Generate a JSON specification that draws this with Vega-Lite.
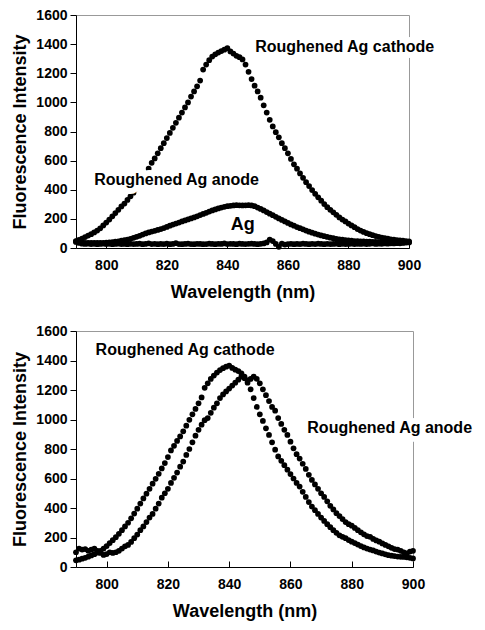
{
  "$schema": "https://vega.github.io/schema/vega-lite/v6.json",
  "padding": {"left": 11, "top": 7, "right": 5, "bottom": 5},
  "bounds": "flush",
  "spacing": 83,
  "config": {
    "view": {"stroke": "#999", "strokeWidth": 1},
    "font": "Liberation Sans",
    "axis": {
      "labelFont": "Liberation Sans", "labelFontWeight": "bold", "labelFontSize": 14, "labelColor": "#000",
      "titleFont": "Liberation Sans", "titleFontWeight": "bold", "titleFontSize": 18, "titleColor": "#000",
      "domainColor": "#000", "tickColor": "#000", "grid": false, "domainWidth": 1, "tickWidth": 1, "labelFlush": false
    }
  },
  "datasets": {
    "topCathode": [
      {"wl":790,"v":48},{"wl":791,"v":55},{"wl":792,"v":65},{"wl":793,"v":75},{"wl":794,"v":85},{"wl":795,"v":95},{"wl":796,"v":107},{"wl":797,"v":120},{"wl":798,"v":135},{"wl":799,"v":155},
      {"wl":800,"v":175},{"wl":801,"v":195},{"wl":802,"v":218},{"wl":803,"v":240},{"wl":804,"v":262},{"wl":805,"v":285},{"wl":806,"v":305},{"wl":807,"v":330},{"wl":808,"v":355},{"wl":809,"v":380},
      {"wl":810,"v":410},{"wl":811,"v":440},{"wl":812,"v":470},{"wl":813,"v":505},{"wl":814,"v":545},{"wl":815,"v":585},{"wl":816,"v":615},{"wl":817,"v":650},{"wl":818,"v":685},{"wl":819,"v":720},
      {"wl":820,"v":755},{"wl":821,"v":790},{"wl":822,"v":825},{"wl":823,"v":860},{"wl":824,"v":895},{"wl":825,"v":930},{"wl":826,"v":965},{"wl":827,"v":1000},{"wl":828,"v":1040},{"wl":829,"v":1075},
      {"wl":830,"v":1110},{"wl":831,"v":1150},{"wl":832,"v":1225},{"wl":833,"v":1260},{"wl":834,"v":1290},{"wl":835,"v":1315},{"wl":836,"v":1330},{"wl":837,"v":1342},{"wl":838,"v":1352},{"wl":839,"v":1362},
      {"wl":840,"v":1372},{"wl":841,"v":1350},{"wl":842,"v":1335},{"wl":843,"v":1320},{"wl":844,"v":1310},{"wl":845,"v":1295},{"wl":846,"v":1260},{"wl":847,"v":1210},{"wl":848,"v":1160},{"wl":849,"v":1115},
      {"wl":850,"v":1075},{"wl":851,"v":1032},{"wl":852,"v":980},{"wl":853,"v":930},{"wl":854,"v":880},{"wl":855,"v":835},{"wl":856,"v":795},{"wl":857,"v":760},{"wl":858,"v":720},{"wl":859,"v":685},
      {"wl":860,"v":650},{"wl":861,"v":612},{"wl":862,"v":575},{"wl":863,"v":545},{"wl":864,"v":512},{"wl":865,"v":482},{"wl":866,"v":452},{"wl":867,"v":425},{"wl":868,"v":398},{"wl":869,"v":372},
      {"wl":870,"v":348},{"wl":871,"v":325},{"wl":872,"v":302},{"wl":873,"v":280},{"wl":874,"v":262},{"wl":875,"v":245},{"wl":876,"v":228},{"wl":877,"v":210},{"wl":878,"v":195},{"wl":879,"v":182},
      {"wl":880,"v":168},{"wl":881,"v":155},{"wl":882,"v":143},{"wl":883,"v":130},{"wl":884,"v":120},{"wl":885,"v":110},{"wl":886,"v":102},{"wl":887,"v":95},{"wl":888,"v":88},{"wl":889,"v":82},
      {"wl":890,"v":77},{"wl":891,"v":72},{"wl":892,"v":68},{"wl":893,"v":64},{"wl":894,"v":60},{"wl":895,"v":57},{"wl":896,"v":54},{"wl":897,"v":52},{"wl":898,"v":50},{"wl":899,"v":48},{"wl":900,"v":46}
    ],
    "topAnode": [
      {"wl":790,"v":45},{"wl":791,"v":40},{"wl":792,"v":38},{"wl":793,"v":36},{"wl":794,"v":35},{"wl":795,"v":35},{"wl":796,"v":35},{"wl":797,"v":35},{"wl":798,"v":36},{"wl":799,"v":36},
      {"wl":800,"v":37},{"wl":801,"v":38},{"wl":802,"v":40},{"wl":803,"v":43},{"wl":804,"v":46},{"wl":805,"v":50},{"wl":806,"v":54},{"wl":807,"v":58},{"wl":808,"v":63},{"wl":809,"v":70},
      {"wl":810,"v":77},{"wl":811,"v":84},{"wl":812,"v":92},{"wl":813,"v":100},{"wl":814,"v":107},{"wl":815,"v":113},{"wl":816,"v":118},{"wl":817,"v":124},{"wl":818,"v":130},{"wl":819,"v":137},
      {"wl":820,"v":145},{"wl":821,"v":153},{"wl":822,"v":161},{"wl":823,"v":168},{"wl":824,"v":175},{"wl":825,"v":182},{"wl":826,"v":189},{"wl":827,"v":196},{"wl":828,"v":203},{"wl":829,"v":210},
      {"wl":830,"v":218},{"wl":831,"v":226},{"wl":832,"v":234},{"wl":833,"v":242},{"wl":834,"v":250},{"wl":835,"v":258},{"wl":836,"v":265},{"wl":837,"v":272},{"wl":838,"v":278},{"wl":839,"v":283},
      {"wl":840,"v":287},{"wl":841,"v":290},{"wl":842,"v":292},{"wl":843,"v":294},{"wl":844,"v":293},{"wl":845,"v":292},{"wl":846,"v":293},{"wl":847,"v":294},{"wl":848,"v":292},{"wl":849,"v":287},
      {"wl":850,"v":278},{"wl":851,"v":268},{"wl":852,"v":258},{"wl":853,"v":247},{"wl":854,"v":236},{"wl":855,"v":225},{"wl":856,"v":214},{"wl":857,"v":203},{"wl":858,"v":193},{"wl":859,"v":182},
      {"wl":860,"v":172},{"wl":861,"v":162},{"wl":862,"v":153},{"wl":863,"v":144},{"wl":864,"v":136},{"wl":865,"v":128},{"wl":866,"v":120},{"wl":867,"v":112},{"wl":868,"v":105},{"wl":869,"v":98},
      {"wl":870,"v":92},{"wl":871,"v":86},{"wl":872,"v":81},{"wl":873,"v":76},{"wl":874,"v":71},{"wl":875,"v":67},{"wl":876,"v":63},{"wl":877,"v":60},{"wl":878,"v":57},{"wl":879,"v":54},
      {"wl":880,"v":52},{"wl":881,"v":50},{"wl":882,"v":48},{"wl":883,"v":47},{"wl":884,"v":46},{"wl":885,"v":45},{"wl":886,"v":44},{"wl":887,"v":43},{"wl":888,"v":42},{"wl":889,"v":42},
      {"wl":890,"v":41},{"wl":891,"v":41},{"wl":892,"v":40},{"wl":893,"v":40},{"wl":894,"v":40},{"wl":895,"v":39},{"wl":896,"v":39},{"wl":897,"v":39},{"wl":898,"v":38},{"wl":899,"v":38},{"wl":900,"v":38}
    ],
    "topAg": [
      {"wl":790,"v":42},{"wl":791,"v":35},{"wl":792,"v":30},{"wl":793,"v":28},{"wl":794,"v":30},{"wl":795,"v":27},{"wl":796,"v":29},{"wl":797,"v":26},{"wl":798,"v":28},{"wl":799,"v":30},
      {"wl":800,"v":27},{"wl":801,"v":29},{"wl":802,"v":26},{"wl":803,"v":28},{"wl":804,"v":30},{"wl":805,"v":27},{"wl":806,"v":28},{"wl":807,"v":26},{"wl":808,"v":29},{"wl":809,"v":27},
      {"wl":810,"v":28},{"wl":811,"v":30},{"wl":812,"v":26},{"wl":813,"v":28},{"wl":814,"v":32},{"wl":815,"v":27},{"wl":816,"v":29},{"wl":817,"v":26},{"wl":818,"v":28},{"wl":819,"v":27},
      {"wl":820,"v":30},{"wl":821,"v":26},{"wl":822,"v":28},{"wl":823,"v":33},{"wl":824,"v":27},{"wl":825,"v":26},{"wl":826,"v":28},{"wl":827,"v":30},{"wl":828,"v":27},{"wl":829,"v":26},
      {"wl":830,"v":29},{"wl":831,"v":28},{"wl":832,"v":26},{"wl":833,"v":27},{"wl":834,"v":30},{"wl":835,"v":28},{"wl":836,"v":26},{"wl":837,"v":29},{"wl":838,"v":28},{"wl":839,"v":31},
      {"wl":840,"v":27},{"wl":841,"v":29},{"wl":842,"v":28},{"wl":843,"v":26},{"wl":844,"v":30},{"wl":845,"v":28},{"wl":846,"v":27},{"wl":847,"v":29},{"wl":848,"v":30},{"wl":849,"v":28},
      {"wl":850,"v":26},{"wl":851,"v":29},{"wl":852,"v":31},{"wl":853,"v":38},{"wl":854,"v":58},{"wl":855,"v":48},{"wl":856,"v":28},{"wl":857,"v":8},{"wl":858,"v":30},{"wl":859,"v":24},
      {"wl":860,"v":27},{"wl":861,"v":29},{"wl":862,"v":26},{"wl":863,"v":28},{"wl":864,"v":27},{"wl":865,"v":30},{"wl":866,"v":28},{"wl":867,"v":26},{"wl":868,"v":29},{"wl":869,"v":27},
      {"wl":870,"v":30},{"wl":871,"v":28},{"wl":872,"v":26},{"wl":873,"v":29},{"wl":874,"v":27},{"wl":875,"v":28},{"wl":876,"v":30},{"wl":877,"v":26},{"wl":878,"v":29},{"wl":879,"v":27},
      {"wl":880,"v":28},{"wl":881,"v":30},{"wl":882,"v":27},{"wl":883,"v":29},{"wl":884,"v":28},{"wl":885,"v":30},{"wl":886,"v":27},{"wl":887,"v":29},{"wl":888,"v":31},{"wl":889,"v":28},
      {"wl":890,"v":30},{"wl":891,"v":29},{"wl":892,"v":31},{"wl":893,"v":30},{"wl":894,"v":32},{"wl":895,"v":31},{"wl":896,"v":33},{"wl":897,"v":32},{"wl":898,"v":35},{"wl":899,"v":38},{"wl":900,"v":40}
    ],
    "bottomCathode": [
      {"wl":790,"v":45},{"wl":791,"v":50},{"wl":792,"v":56},{"wl":793,"v":62},{"wl":794,"v":70},{"wl":795,"v":78},{"wl":796,"v":87},{"wl":797,"v":97},{"wl":798,"v":110},{"wl":799,"v":125},
      {"wl":800,"v":142},{"wl":801,"v":162},{"wl":802,"v":182},{"wl":803,"v":202},{"wl":804,"v":225},{"wl":805,"v":250},{"wl":806,"v":275},{"wl":807,"v":300},{"wl":808,"v":330},{"wl":809,"v":362},
      {"wl":810,"v":395},{"wl":811,"v":430},{"wl":812,"v":465},{"wl":813,"v":497},{"wl":814,"v":530},{"wl":815,"v":565},{"wl":816,"v":598},{"wl":817,"v":632},{"wl":818,"v":668},{"wl":819,"v":705},
      {"wl":820,"v":745},{"wl":821,"v":790},{"wl":822,"v":822},{"wl":823,"v":855},{"wl":824,"v":885},{"wl":825,"v":920},{"wl":826,"v":958},{"wl":827,"v":998},{"wl":828,"v":1035},{"wl":829,"v":1072},
      {"wl":830,"v":1110},{"wl":831,"v":1150},{"wl":832,"v":1215},{"wl":833,"v":1245},{"wl":834,"v":1275},{"wl":835,"v":1298},{"wl":836,"v":1318},{"wl":837,"v":1335},{"wl":838,"v":1348},{"wl":839,"v":1358},
      {"wl":840,"v":1365},{"wl":841,"v":1350},{"wl":842,"v":1338},{"wl":843,"v":1328},{"wl":844,"v":1312},{"wl":845,"v":1290},{"wl":846,"v":1250},{"wl":847,"v":1205},{"wl":848,"v":1145},{"wl":849,"v":1085},
      {"wl":850,"v":1035},{"wl":851,"v":990},{"wl":852,"v":940},{"wl":853,"v":895},{"wl":854,"v":845},{"wl":855,"v":795},{"wl":856,"v":750},{"wl":857,"v":720},{"wl":858,"v":690},{"wl":859,"v":660},
      {"wl":860,"v":630},{"wl":861,"v":600},{"wl":862,"v":570},{"wl":863,"v":545},{"wl":864,"v":510},{"wl":865,"v":475},{"wl":866,"v":440},{"wl":867,"v":410},{"wl":868,"v":385},{"wl":869,"v":360},
      {"wl":870,"v":335},{"wl":871,"v":312},{"wl":872,"v":290},{"wl":873,"v":270},{"wl":874,"v":250},{"wl":875,"v":232},{"wl":876,"v":215},{"wl":877,"v":205},{"wl":878,"v":195},{"wl":879,"v":183},
      {"wl":880,"v":172},{"wl":881,"v":162},{"wl":882,"v":152},{"wl":883,"v":142},{"wl":884,"v":133},{"wl":885,"v":125},{"wl":886,"v":118},{"wl":887,"v":112},{"wl":888,"v":105},{"wl":889,"v":98},
      {"wl":890,"v":92},{"wl":891,"v":86},{"wl":892,"v":80},{"wl":893,"v":77},{"wl":894,"v":74},{"wl":895,"v":71},{"wl":896,"v":69},{"wl":897,"v":68},{"wl":898,"v":66},{"wl":899,"v":62},{"wl":900,"v":58}
    ],
    "bottomAnode": [
      {"wl":790,"v":100},{"wl":791,"v":125},{"wl":792,"v":118},{"wl":793,"v":122},{"wl":794,"v":110},{"wl":795,"v":118},{"wl":796,"v":125},{"wl":797,"v":110},{"wl":798,"v":95},{"wl":799,"v":82},
      {"wl":800,"v":88},{"wl":801,"v":100},{"wl":802,"v":95},{"wl":803,"v":100},{"wl":804,"v":110},{"wl":805,"v":125},{"wl":806,"v":140},{"wl":807,"v":150},{"wl":808,"v":170},{"wl":809,"v":195},
      {"wl":810,"v":220},{"wl":811,"v":250},{"wl":812,"v":275},{"wl":813,"v":305},{"wl":814,"v":335},{"wl":815,"v":360},{"wl":816,"v":395},{"wl":817,"v":430},{"wl":818,"v":470},{"wl":819,"v":500},
      {"wl":820,"v":530},{"wl":821,"v":570},{"wl":822,"v":605},{"wl":823,"v":640},{"wl":824,"v":680},{"wl":825,"v":715},{"wl":826,"v":760},{"wl":827,"v":800},{"wl":828,"v":845},{"wl":829,"v":890},
      {"wl":830,"v":930},{"wl":831,"v":965},{"wl":832,"v":995},{"wl":833,"v":1010},{"wl":834,"v":1045},{"wl":835,"v":1080},{"wl":836,"v":1110},{"wl":837,"v":1145},{"wl":838,"v":1170},{"wl":839,"v":1190},
      {"wl":840,"v":1210},{"wl":841,"v":1230},{"wl":842,"v":1250},{"wl":843,"v":1270},{"wl":844,"v":1290},{"wl":845,"v":1280},{"wl":846,"v":1265},{"wl":847,"v":1275},{"wl":848,"v":1290},{"wl":849,"v":1275},
      {"wl":850,"v":1245},{"wl":851,"v":1205},{"wl":852,"v":1165},{"wl":853,"v":1125},{"wl":854,"v":1085},{"wl":855,"v":1060},{"wl":856,"v":1010},{"wl":857,"v":970},{"wl":858,"v":930},{"wl":859,"v":895},
      {"wl":860,"v":850},{"wl":861,"v":805},{"wl":862,"v":765},{"wl":863,"v":735},{"wl":864,"v":700},{"wl":865,"v":665},{"wl":866,"v":625},{"wl":867,"v":590},{"wl":868,"v":560},{"wl":869,"v":530},
      {"wl":870,"v":500},{"wl":871,"v":475},{"wl":872,"v":445},{"wl":873,"v":415},{"wl":874,"v":390},{"wl":875,"v":365},{"wl":876,"v":345},{"wl":877,"v":325},{"wl":878,"v":305},{"wl":879,"v":290},
      {"wl":880,"v":280},{"wl":881,"v":265},{"wl":882,"v":250},{"wl":883,"v":235},{"wl":884,"v":222},{"wl":885,"v":210},{"wl":886,"v":205},{"wl":887,"v":190},{"wl":888,"v":180},{"wl":889,"v":172},
      {"wl":890,"v":160},{"wl":891,"v":150},{"wl":892,"v":140},{"wl":893,"v":130},{"wl":894,"v":122},{"wl":895,"v":118},{"wl":896,"v":110},{"wl":897,"v":100},{"wl":898,"v":92},{"wl":899,"v":105},{"wl":900,"v":110}
    ],
    "labels": [
      {"panel":"top","text":"Roughened Ag cathode","wl":849.2,"v":1382},
      {"panel":"top","text":"Roughened Ag anode","wl":796,"v":464},
      {"panel":"top","text":"Ag","wl":841.1,"v":155},
      {"panel":"bottom","text":"Roughened Ag cathode","wl":796.4,"v":1473},
      {"panel":"bottom","text":"Roughened Ag anode","wl":865.5,"v":941}
    ]
  },
  "vconcat": [
    {
      "width": 333,
      "height": 233,
      "encoding": {
        "x": {"field": "wl", "type": "quantitative", "scale": {"domain": [790, 900], "nice": false, "zero": false},
              "axis": {"title": "Wavelength (nm)", "values": [800, 820, 840, 860, 880, 900], "format": "d", "tickSize": -6, "labelPadding": 16, "titlePadding": 11}},
        "y": {"field": "v", "type": "quantitative", "scale": {"domain": [0, 1600], "nice": false, "zero": false},
              "axis": {"title": "Fluorescence Intensity", "values": [0, 200, 400, 600, 800, 1000, 1200, 1400, 1600], "format": "d", "tickSize": 6, "labelPadding": 3, "titlePadding": 6}}
      },
      "layer": [
        {"data": {"name": "topAg"}, "mark": {"type": "point", "filled": true, "size": 33, "color": "#000", "opacity": 1}},
        {"data": {"name": "topAnode"}, "mark": {"type": "point", "filled": true, "size": 33, "color": "#000", "opacity": 1}},
        {"data": {"name": "topCathode"}, "mark": {"type": "point", "filled": true, "size": 33, "color": "#000", "opacity": 1}},
        {"data": {"name": "labels"}, "transform": [{"filter": "datum.panel === 'top' && datum.text !== 'Ag'"}],
         "mark": {"type": "text", "align": "left", "baseline": "middle", "font": "Liberation Sans", "fontWeight": "bold", "fontSize": 16, "fill": "#fff", "stroke": "#fff", "strokeWidth": 12, "strokeJoin": "round"},
         "encoding": {"text": {"field": "text"}}},
        {"data": {"name": "labels"}, "transform": [{"filter": "datum.panel === 'top' && datum.text !== 'Ag'"}],
         "mark": {"type": "text", "align": "left", "baseline": "middle", "font": "Liberation Sans", "fontWeight": "bold", "fontSize": 16, "color": "#000"},
         "encoding": {"text": {"field": "text"}}},
        {"data": {"name": "labels"}, "transform": [{"filter": "datum.panel === 'top' && datum.text === 'Ag'"}],
         "mark": {"type": "text", "align": "left", "baseline": "middle", "font": "Liberation Sans", "fontWeight": "bold", "fontSize": 18, "color": "#000"},
         "encoding": {"text": {"field": "text"}}}
      ]
    },
    {
      "width": 337,
      "height": 236,
      "encoding": {
        "x": {"field": "wl", "type": "quantitative", "scale": {"domain": [790, 900], "nice": false, "zero": false},
              "axis": {"title": "Wavelength (nm)", "values": [800, 820, 840, 860, 880, 900], "format": "d", "tickSize": -6, "labelPadding": 16, "titlePadding": 11}},
        "y": {"field": "v", "type": "quantitative", "scale": {"domain": [0, 1600], "nice": false, "zero": false},
              "axis": {"title": "Fluorescence Intensity", "values": [0, 200, 400, 600, 800, 1000, 1200, 1400, 1600], "format": "d", "tickSize": 6, "labelPadding": 3, "titlePadding": 6}}
      },
      "layer": [
        {"data": {"name": "bottomAnode"}, "mark": {"type": "point", "filled": true, "size": 33, "color": "#000", "opacity": 1}},
        {"data": {"name": "bottomCathode"}, "mark": {"type": "point", "filled": true, "size": 33, "color": "#000", "opacity": 1}},
        {"data": {"name": "labels"}, "transform": [{"filter": "datum.panel === 'bottom'"}],
         "mark": {"type": "text", "align": "left", "baseline": "middle", "font": "Liberation Sans", "fontWeight": "bold", "fontSize": 16, "fill": "#fff", "stroke": "#fff", "strokeWidth": 12, "strokeJoin": "round"},
         "encoding": {"text": {"field": "text"}}},
        {"data": {"name": "labels"}, "transform": [{"filter": "datum.panel === 'bottom'"}],
         "mark": {"type": "text", "align": "left", "baseline": "middle", "font": "Liberation Sans", "fontWeight": "bold", "fontSize": 16, "color": "#000"},
         "encoding": {"text": {"field": "text"}}}
      ]
    }
  ]
}
